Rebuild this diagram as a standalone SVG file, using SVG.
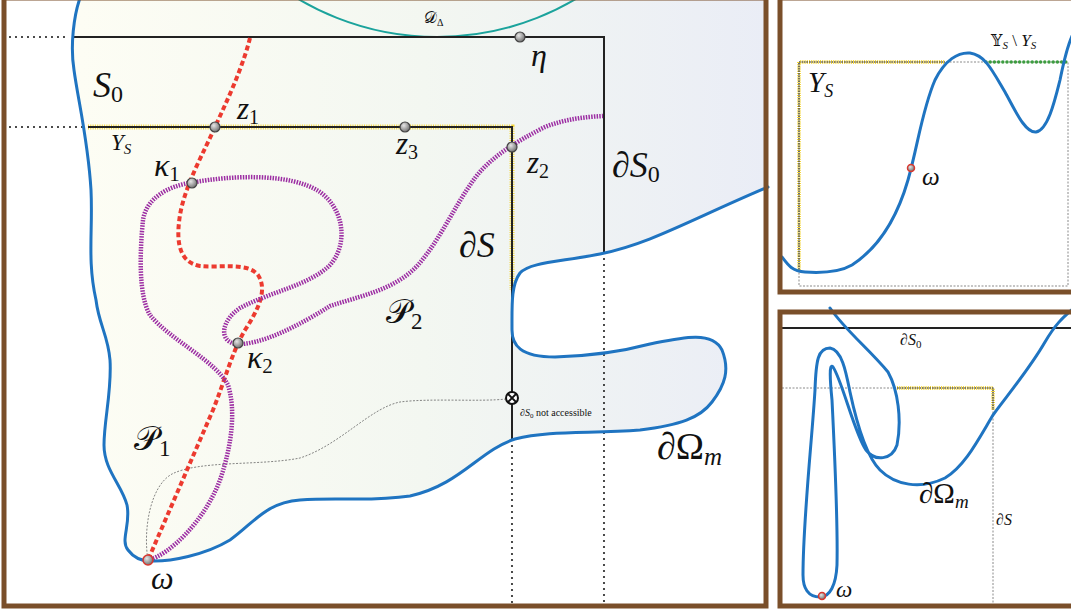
<svg xmlns="http://www.w3.org/2000/svg" width="1071" height="613" viewBox="0 0 1071 613">
<defs>
<linearGradient id="fillS" x1="80" y1="0" x2="766" y2="0" gradientUnits="userSpaceOnUse">
<stop offset="0" stop-color="#fdfdf4"/>
<stop offset="0.5" stop-color="#f3f7f1"/>
<stop offset="1" stop-color="#eaedf6"/>
</linearGradient>
<radialGradient id="pt" cx="0.38" cy="0.35" r="0.7">
<stop offset="0" stop-color="#e6e6e6"/>
<stop offset="1" stop-color="#6a6a6a"/>
</radialGradient>
<style>
.frame{fill:none;stroke:#7a4f2a;stroke-width:5}
.blue{fill:none;stroke:#1f74c1;stroke-width:3;stroke-linecap:round}
.solid{fill:none;stroke:#222;stroke-width:2}
.dots{fill:none;stroke:#222;stroke-width:2.2;stroke-dasharray:0 6;stroke-linecap:round}
.hatch{fill:none;stroke:#f4d63a;stroke-width:5;stroke-dasharray:1 1.3}
.hatchs{fill:none;stroke:#f4d63a;stroke-width:4;stroke-dasharray:1 1.2}
.blkdot{fill:none;stroke:#333;stroke-width:1.2;stroke-dasharray:1.5 1}
.gdot{fill:none;stroke:#8a8a8a;stroke-width:1;stroke-dasharray:2 1.5}
.red{fill:none;stroke:#ec3a2f;stroke-width:4;stroke-dasharray:5 3}
.purple{fill:none;stroke:#9c2ea3;stroke-width:4.5;stroke-dasharray:1.5 1.2}
.thin{fill:none;stroke:#666;stroke-width:0.8;stroke-dasharray:2 1.5}
.pt{fill:url(#pt);stroke:#444;stroke-width:1.2}
.ptw{fill:url(#pt);stroke:#d8372f;stroke-width:1.5}
.m{font-family:"Liberation Serif","DejaVu Serif",serif;font-style:italic;fill:#111}
.u{font-style:normal}
.sm{font-family:"Liberation Serif","DejaVu Serif",serif;fill:#111}
.scr{font-family:"DejaVu Serif","DejaVu Sans","Noto Sans",serif;font-style:normal;fill:#111}
</style>
</defs>

<!-- main panel -->
<g id="main-panel">
<rect x="4" y="-2" width="762" height="608" fill="#ffffff"/>
<path id="S0-fill" fill="url(#fillS)" d="M80,-2 C74,15 70,45 74,70 C78,100 88,140 91,190 C93,230 87,260 96,300 C99,325 108,335 110,360 C112,390 104,420 104,445 C104,470 122,485 127,505 C131,525 120,540 128,550 C134,558 142,561 150,561 C170,562 205,555 230,540 C255,522 265,503 300,500 C340,497 370,502 410,496 C460,485 480,450 515,439 C550,430 590,434 640,430 C680,425 700,418 712,402 C725,385 730,370 722,350 C712,330 680,338 650,344 C620,352 590,356 555,357 C520,357 512,345 512,330 C512,305 511,285 520,273 C530,262 560,262 600,254 C650,244 690,220 768,187 L768,-2 Z"/>
<circle id="D-delta" cx="437" cy="-235" r="272" fill="none" stroke="#1ba39c" stroke-width="2"/>
</g>

<g id="connectors">
<path class="dots" d="M10,37 H70"/>
<path class="solid" d="M72,37 H604 V253"/>
<path class="dots" d="M604,259 V603"/>
<path class="dots" d="M10,127 H84"/>
<path class="hatch" d="M88,127 H512 V290"/>
<path class="solid" d="M88,127 H512 V440"/>
<path class="dots" d="M512,446 V603"/>
<path class="thin" d="M506,399 C480,402 430,398 400,402 C370,408 340,445 300,458 C260,466 200,460 172,474 C150,486 143,530 148,560"/>
<path id="P1" class="red" d="M250,38 C242,70 225,105 215,127 C205,150 185,185 180,215 C176,240 178,262 200,266 C220,268 248,262 258,275 C268,290 258,310 245,330 C232,352 225,380 213,410 L148,560"/>
<path id="P2" class="purple" d="M148,560 C170,555 205,520 220,480 C232,445 236,410 228,385 C215,360 170,340 150,315 C138,295 140,250 143,220 C146,200 165,186 195,182 C230,176 290,172 320,192 C345,210 348,245 330,265 C310,285 270,292 240,308 C222,320 218,340 235,344 C260,346 300,325 330,306 C360,296 395,290 418,265 C440,240 455,205 475,178 C490,158 515,142 545,127 C565,119 585,117 603,116"/>
<path id="dOmega" class="blue" d="M80,-2 C74,15 70,45 74,70 C78,100 88,140 91,190 C93,230 87,260 96,300 C99,325 108,335 110,360 C112,390 104,420 104,445 C104,470 122,485 127,505 C131,525 120,540 128,550 C134,558 142,561 150,561 C170,562 205,555 230,540 C255,522 265,503 300,500 C340,497 370,502 410,496 C460,485 480,450 515,439 C550,430 590,434 640,430 C680,425 700,418 712,402 C725,385 730,370 722,350 C712,330 680,338 650,344 C620,352 590,356 555,357 C520,357 512,345 512,330 C512,305 511,285 520,273 C530,262 560,262 600,254 C650,244 690,220 768,187"/>
</g>

<g id="cross">
<circle cx="512" cy="398" r="6" fill="#fff" stroke="#111" stroke-width="2"/>
<path d="M508,394 L516,402 M516,394 L508,402" stroke="#111" stroke-width="1.8"/>
</g>

<g id="points">
<circle id="z1" class="pt" cx="215" cy="127" r="5"/>
<circle id="z3" class="pt" cx="405" cy="127" r="5"/>
<circle id="z2" class="pt" cx="512" cy="147" r="5"/>
<circle id="k1" class="pt" cx="192" cy="183" r="5"/>
<circle id="k2" class="pt" cx="238" cy="343" r="5"/>
<circle id="eta" class="pt" cx="520" cy="37" r="5"/>
<circle id="omega" class="ptw" cx="148" cy="560" r="5"/>
</g>

<g id="labels">
<text class="m" x="93" y="97" font-size="36">S<tspan class="u" font-size="24" dy="5">0</tspan></text>
<text class="m" x="237" y="119" font-size="31">z<tspan class="u" font-size="20" dy="5">1</tspan></text>
<text class="m" x="111" y="150" font-size="23">Y<tspan font-size="15" dy="4">S</tspan></text>
<text class="m" x="154" y="176" font-size="32">κ<tspan class="u" font-size="21" dy="5">1</tspan></text>
<text class="m" x="396" y="154" font-size="31">z<tspan class="u" font-size="20" dy="5">3</tspan></text>
<text class="m" x="527" y="173" font-size="31">z<tspan class="u" font-size="20" dy="5">2</tspan></text>
<text class="m" x="531" y="66" font-size="32">η</text>
<text class="m" x="424" y="23" font-size="16"><tspan class="scr">𝒟</tspan><tspan class="u" font-size="10" dy="3">Δ</tspan></text>
<text class="m" x="612" y="177" font-size="36">∂S<tspan class="u" font-size="24" dy="5">0</tspan></text>
<text class="m" x="459" y="257" font-size="36">∂S</text>
<text class="m" x="386" y="323" font-size="34"><tspan class="scr">𝒫</tspan><tspan class="u" font-size="23" dy="6">2</tspan></text>
<text class="m" x="247" y="368" font-size="32">κ<tspan class="u" font-size="21" dy="5">2</tspan></text>
<text class="m" x="134" y="450" font-size="34"><tspan class="scr">𝒫</tspan><tspan class="u" font-size="23" dy="6">1</tspan></text>
<text class="m" x="151" y="589" font-size="32">ω</text>
<text class="m" x="657" y="459" font-size="38">∂<tspan class="u">Ω</tspan><tspan font-size="25" dy="6">m</tspan></text>
<text class="sm" x="520" y="416" font-size="10"><tspan font-style="italic">∂S</tspan><tspan font-size="7" dy="2">0</tspan><tspan dy="-2"> not accessible</tspan></text>
</g>

<rect class="frame" x="4" y="-2" width="762" height="608"/>

<!-- top-right inset -->
<g id="inset-top">
<rect x="780" y="-2" width="300" height="294" fill="#ffffff"/>
<path class="gdot" d="M799,62 H1068 V286 H799 Z"/>
<path class="hatchs" d="M799,272 V62 H945"/>
<path class="blkdot" d="M799,272 V62 H945"/>
<path fill="none" stroke="#3d9c40" stroke-width="3.5" stroke-linecap="round" stroke-dasharray="0 4.2" d="M986,62 H1066"/>
<path class="blue" d="M782,257 C788,265 792,271 805,272 C820,273 840,272 852,265 C875,250 895,225 908,180 C918,145 922,110 935,80 C945,60 958,52 970,53 C985,55 992,70 1005,92 C1015,110 1025,133 1036,132 C1048,130 1055,100 1060,80 C1064,60 1068,45 1072,36"/>
<circle class="ptw" cx="911" cy="168" r="3.5"/>
<text class="m" x="922" y="185" font-size="25">ω</text>
<text class="m" x="808" y="92" font-size="29">Y<tspan font-size="18" dy="5">S</tspan></text>
<text class="m" x="991" y="46" font-size="17"><tspan class="scr" font-size="16">𝕐</tspan><tspan font-size="11" dy="3">S</tspan><tspan class="u" dy="-3"> \ </tspan>Y<tspan font-size="11" dy="3">S</tspan></text>
<rect class="frame" x="780" y="-2" width="300" height="294"/>
</g>

<!-- bottom-right inset -->
<g id="inset-bottom">
<rect x="780" y="312" width="300" height="294" fill="#ffffff"/>
<path class="solid" d="M780,328 H1071"/>
<path class="gdot" d="M782,388 H993 V605"/>
<path class="hatchs" d="M897,388 H993 V410"/>
<path class="blkdot" d="M897,388 H993 V410"/>
<path class="blue" d="M830,308 C845,330 870,350 888,372 C898,390 902,420 897,445 C892,460 875,462 866,450 C855,435 842,380 833,367 C829,362 830,380 832,400 C834,440 838,520 837,565 C836,585 830,597 820,597 C808,597 803,588 803,575 C803,520 812,440 815,390 C816,360 818,348 830,348 C842,350 846,372 850,392 C856,420 865,455 880,470 C895,485 920,490 945,478 C965,466 978,440 993,415 C1010,392 1030,368 1045,342 C1055,325 1062,318 1074,308"/>
<circle class="ptw" cx="822" cy="596" r="3.5"/>
<text class="m" x="900" y="345" font-size="16">∂S<tspan class="u" font-size="11" dy="3">0</tspan></text>
<text class="m" x="996" y="525" font-size="16">∂S</text>
<text class="m" x="919" y="503" font-size="29">∂<tspan class="u">Ω</tspan><tspan font-size="19" dy="5">m</tspan></text>
<text class="m" x="836" y="597" font-size="23">ω</text>
<rect class="frame" x="780" y="312" width="300" height="294"/>
</g>
</svg>
